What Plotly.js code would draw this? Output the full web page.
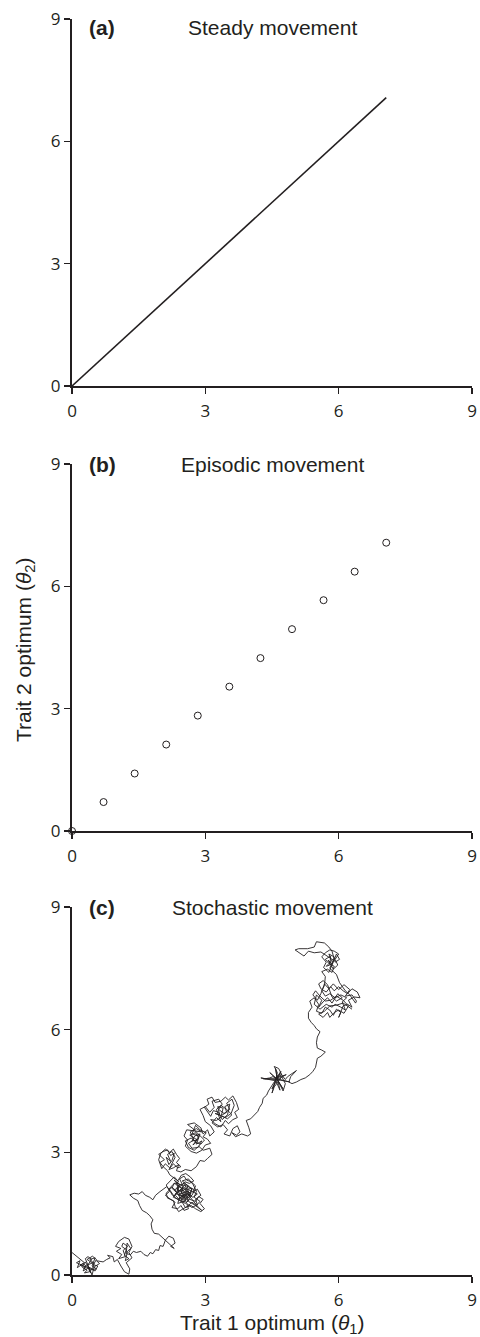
<!DOCTYPE html>
<html>
<head>
<meta charset="utf-8">
<script src="https://cdn.plot.ly/plotly-3.0.1.min.js"></script>
<style>
  html, body { margin: 0; padding: 0; background: #ffffff; }
  #chart { width: 480px; height: 1337px; }
</style>
</head>
<body>
<div id="chart"></div>
<script>
// ---------- data ----------
const tickValues = [0, 3, 6, 9];
const tickLabels = ["0", "3", "6", "9"];

const panelLetters = ["(a)", "(b)", "(c)"];
const panelTitles = ["Steady movement", "Episodic movement", "Stochastic movement"];
const xAxisTitle = "Trait 1 optimum (<i>θ</i><sub>1</sub>)";
const yAxisTitle = "Trait 2 optimum (<i>θ</i><sub>2</sub>)";

// (a) steady movement: straight path of the optimum
const steadyX = [0, 7.07];
const steadyY = [0, 7.07];

// (b) episodic movement: discrete jumps of the optimum
const episodicX = [0, 0.71, 1.41, 2.12, 2.83, 3.54, 4.24, 4.95, 5.66, 6.36, 7.07];
const episodicY = [0, 0.71, 1.41, 2.12, 2.83, 3.54, 4.24, 4.95, 5.66, 6.36, 7.07];

// (c) stochastic movement: path (x, y)
const stochasticPath = [
  [0.00,0.55],[0.12,0.45],[0.20,0.38],[0.28,0.30],[0.18,0.24],[0.30,0.20],[0.25,0.10],[0.38,0.18],
  [0.42,0.05],[0.35,0.25],[0.48,0.30],[0.40,0.38],[0.52,0.42],[0.45,0.22],[0.55,0.15],[0.40,0.12],
  [0.30,0.32],[0.22,0.20],[0.34,0.12],[0.28,0.05],[0.40,0.08],[0.36,0.20],[0.46,0.15],[0.50,0.28],
  [0.42,0.32],[0.34,0.38],[0.46,0.46],[0.55,0.38],[0.48,0.25],[0.58,0.22],[0.52,0.10],
  [0.10,0.30],[0.18,0.35],[0.12,0.18],[0.25,0.28],[0.32,0.22],[0.26,0.15],[0.38,0.28],[0.44,0.38],
  [0.36,0.45],[0.30,0.40],
  [0.45,0.00],[0.50,0.20],[0.62,0.28],[0.55,0.35],[0.70,0.32],[0.78,0.38],[0.86,0.42],[0.80,0.48],
  [0.92,0.45],[0.95,0.32],
  [1.02,0.38],[1.10,0.22],[1.18,0.08],[1.28,0.02],[1.30,0.15],[1.22,0.30],[1.35,0.42],[1.28,0.55],
  [1.35,0.70],[1.28,0.88],[1.18,0.92],[1.05,0.82],[0.98,0.70],[1.10,0.65],[1.00,0.58],[1.12,0.50],
  [1.05,0.40],[1.20,0.45],[1.15,0.60],[1.25,0.70],[1.15,0.78],
  [1.12,0.70],[1.22,0.62],[1.18,0.48],[1.28,0.40],[1.20,0.35],[1.25,0.58],[1.32,0.65],[1.24,0.78],
  [1.22,0.52],[1.32,0.50],[1.38,0.58],
  [1.45,0.55],[1.55,0.58],[1.62,0.50],[1.70,0.46],[1.76,0.55],[1.82,0.52],[1.88,0.62],[1.95,0.60],
  [1.98,0.72],[2.05,0.70],[2.10,0.85],[2.18,0.95],[2.28,0.90],[2.32,0.78],[2.22,0.70],[2.30,0.65],
  [2.15,0.80],[2.05,0.92],[1.95,1.00],[1.85,1.02],[1.80,1.12],[1.78,1.25],[1.82,1.35],[1.75,1.45],
  [1.68,1.52],[1.58,1.58],[1.52,1.70],[1.48,1.82],[1.38,1.88],[1.30,1.96],[1.40,2.00],[1.50,1.98],
  [1.58,2.04],[1.65,1.95],[1.75,1.90],[1.82,1.84],[1.88,1.95],[1.98,2.04],[2.05,2.10],[2.13,2.16],
  [2.22,2.05],[2.30,1.92],[2.40,2.10],[2.35,2.25],[2.50,2.18],[2.45,1.98],[2.60,2.05],[2.55,1.85],
  [2.42,1.90],[2.38,1.75],[2.52,1.80],[2.65,1.92],[2.70,2.10],[2.58,2.22],[2.48,2.30],[2.62,2.35],
  [2.72,2.22],[2.80,2.05],[2.75,1.90],[2.88,1.80],[2.80,1.70],[2.70,1.78],[2.60,1.68],[2.50,1.62],
  [2.40,1.55],[2.32,1.68],[2.28,1.82],[2.15,1.88],[2.12,2.00],[2.25,2.15],[2.35,2.05],[2.48,2.08],
  [2.55,1.95],[2.62,1.80],[2.75,1.72],[2.92,1.58],[2.85,1.65],[2.70,1.85],[2.58,2.00],[2.45,2.12],
  [2.30,2.32],[2.42,2.22],[2.36,2.10],[2.48,2.02],[2.40,1.95],[2.52,1.90],[2.46,2.05],[2.58,2.12],
  [2.50,2.25],[2.62,2.18],[2.55,2.05],[2.68,2.00],[2.60,1.92],[2.50,1.98],[2.56,1.82],[2.44,1.86],
  [2.38,2.00],[2.30,2.08],[2.42,2.15],[2.54,2.10],[2.64,2.02],[2.58,1.88],[2.70,1.95],[2.76,2.08],
  [2.66,2.14],[2.52,2.20],[2.45,2.08],[2.35,1.98],[2.48,1.94],[2.60,1.98],[2.72,1.90],[2.82,1.98],
  [2.74,2.02],[2.62,2.08],[2.50,2.15],[2.40,2.05],[2.32,1.95],[2.44,1.82],[2.55,1.75],[2.65,1.85],
  [2.78,1.80],[2.85,1.92],[2.95,1.85],[2.88,1.75],[2.98,1.62],[2.90,1.55],[2.78,1.62],[2.68,1.70],
  [2.55,1.65],[2.48,1.78],[2.36,1.86],[2.26,1.95],[2.18,2.10],[2.28,2.22],[2.40,2.28],[2.30,2.40],
  [2.22,2.30],[2.12,2.20],[2.20,2.05],[2.10,1.95],[2.22,1.85],[2.32,1.78],[2.25,1.65],[2.38,1.62],
  [2.45,1.70],[2.52,1.58],[2.62,1.62],[2.58,1.75],[2.70,1.65],[2.82,1.72],[2.78,1.85],[2.90,1.95],
  [2.82,2.10],[2.72,2.02],[2.78,2.18],[2.68,2.28],[2.58,2.32],[2.52,2.42],[2.42,2.35],[2.48,2.22],
  [2.38,2.18],[2.30,2.25],[2.25,2.12],[2.35,2.02],[2.28,1.90],[2.40,1.85],[2.50,1.95],[2.45,1.82],
  [2.58,1.78],[2.66,1.90],[2.60,2.10],[2.70,2.12],[2.64,1.96],[2.56,2.02],[2.52,1.88],[2.42,1.98],
  [2.36,2.14],[2.46,2.18],[2.54,2.28],[2.64,2.24],[2.74,2.30],[2.66,2.40],[2.56,2.48],[2.46,2.44],
  [2.38,2.30],[2.28,2.38],[2.20,2.45],
  [2.15,2.55],[2.05,2.65],[1.98,2.75],[2.08,2.82],[1.95,2.95],[2.05,3.02],[2.15,3.06],[2.22,2.92],
  [2.30,2.98],[2.25,2.80],[2.18,2.70],
  [2.12,2.88],[2.22,2.78],[2.15,2.95],[2.25,3.02],[2.32,2.88],[2.20,2.62],
  [2.10,2.72],[2.02,2.60],[1.95,2.82],[2.00,2.98],[2.10,3.08],[2.20,3.00],[2.28,3.08],[2.35,2.95],
  [2.42,2.85],[2.35,2.75],[2.45,2.65],[2.38,2.62],[2.28,2.72],[2.18,2.58],
  [2.28,2.62],[2.40,2.70],[2.35,2.55],[2.45,2.52],[2.55,2.58],
  [2.68,2.55],[2.80,2.65],[2.88,2.80],[2.98,2.78],[3.05,2.85],
  [3.15,2.95],[3.10,3.10],[2.95,3.05],[2.85,3.15],[2.75,3.05],[2.62,3.12],[2.55,3.28],[2.68,3.35],
  [2.80,3.25],[2.72,3.18],[2.85,3.35],[2.78,3.48],[2.65,3.42],
  [2.82,3.30],[2.70,3.28],[2.76,3.40],[2.88,3.45],[2.80,3.20],[2.92,3.28],[2.84,3.12],[2.70,3.10],
  [2.62,3.22],[2.74,3.30],[2.66,3.50],[2.80,3.58],[2.92,3.50],
  [2.58,3.55],[2.52,3.40],[2.60,3.30],[2.55,3.15],[2.68,3.02],[2.80,2.98],[2.92,3.05],[3.00,3.18],
  [3.12,3.22],[3.05,3.32],[2.95,3.38],[3.02,3.48],[2.88,3.55],[2.78,3.66],[2.70,3.45],[2.86,3.40],
  [2.76,3.25],[2.90,3.20],[2.98,3.30],
  [2.72,3.58],[2.60,3.68],[2.75,3.72],
  [2.90,3.60],[2.95,3.45],[3.05,3.55],[3.10,3.40],[3.20,3.50],[3.12,3.65],[3.00,3.75],
  [2.95,3.90],[2.88,4.05],[3.00,4.12],[3.10,3.98],[3.20,4.10],[3.15,4.25],[3.30,4.30],[3.38,4.18],
  [3.30,4.05],[3.42,3.95],[3.55,4.05],[3.48,4.20],[3.60,4.30],[3.65,4.15],[3.58,3.95],[3.45,3.85],
  [3.22,3.95],[3.32,3.92],[3.28,4.12],[3.40,4.08],[3.36,3.90],[3.48,3.98],[3.44,4.12],[3.55,4.18],
  [3.50,3.92],[3.38,3.80],[3.30,3.98],[3.18,4.02],[3.12,3.88],[3.05,4.00],
  [2.98,4.10],[3.08,4.18],[3.04,4.30],[3.15,4.35],[3.22,4.22],[3.35,4.25],[3.45,4.35],[3.52,4.28],
  [3.62,4.38],[3.70,4.22],[3.75,4.05],[3.66,3.98],[3.72,3.85],[3.62,3.80],[3.52,3.70],[3.45,3.78],
  [3.35,3.62],[3.22,3.70],[3.12,3.80],[3.25,3.78],[3.38,3.88],[3.50,3.82],[3.60,3.92],[3.48,4.05],
  [3.35,4.15],[3.25,4.05],
  [3.35,3.75],[3.25,3.85],[3.15,3.72],[3.28,3.62],[3.40,3.68],[3.50,3.55],[3.42,3.45],[3.55,3.40],
  [3.62,3.58],[3.72,3.65],[3.78,3.50],[3.70,3.42],[3.60,3.48],
  [3.68,3.38],[3.82,3.45],[3.95,3.40],[4.02,3.45],[3.98,3.60],[3.92,3.78],[4.02,3.82],[4.10,3.90],
  [4.18,4.00],[4.22,4.10],[4.28,4.20],[4.30,4.32],[4.38,4.40],[4.42,4.50],[4.48,4.60],[4.55,4.72],
  [4.62,4.80],[4.52,4.85],[4.45,4.82],[4.35,4.80],[4.25,4.82],[4.45,4.78],[4.58,4.75],[4.62,4.95],
  [4.55,5.10],[4.65,5.05],[4.72,4.90],[4.60,4.82],
  [4.60,4.78],[4.30,4.80],[4.62,4.80],[4.58,5.05],[4.62,4.78],[4.90,4.72],[4.60,4.80],[4.75,4.55],
  [4.62,4.78],[4.50,4.55],[4.60,4.80],[4.45,4.95],[4.62,4.78],[4.70,4.98],[4.60,4.82],[4.82,4.90],
  [4.58,4.76],[4.68,4.52],[4.62,4.80],
  [4.68,4.65],[4.75,4.50],[4.80,4.68],[4.72,4.85],
  [4.62,4.70],[4.55,4.60],[4.50,4.45],[4.60,4.85],[4.70,4.92],[4.80,4.78],[4.85,4.85],[4.95,4.92],
  [5.05,5.00],[4.92,4.85],[4.88,4.72],[4.95,4.68],
  [5.05,4.72],[5.15,4.78],[5.25,4.82],[5.35,4.90],[5.42,4.98],[5.48,5.08],[5.50,5.20],[5.52,5.30],
  [5.60,5.35],[5.70,5.45],[5.62,5.50],[5.52,5.55],[5.50,5.68],[5.52,5.82],[5.58,5.95],[5.50,6.02],
  [5.45,6.10],[5.38,6.18],[5.32,6.28],[5.32,6.42],
  [5.40,6.55],[5.35,6.70],[5.45,6.78],[5.55,6.62],[5.50,6.45],[5.62,6.40],[5.70,6.55],[5.80,6.48],
  [5.88,6.35],[5.95,6.50],[6.05,6.42],[6.00,6.30],[6.10,6.58],[6.20,6.62],[6.30,6.55],[6.22,6.72],
  [6.35,6.80],[6.48,6.78],[6.42,6.92],[6.30,7.00],[6.20,6.88],[6.10,6.95],[6.00,7.05],[5.90,6.95],
  [5.82,7.05],[5.72,6.92],[5.60,7.00],[5.55,7.12],[5.65,7.20],[5.75,7.10],[5.85,6.80],[5.95,6.70],
  [6.08,6.78],[5.98,6.88],[5.85,6.65],[5.75,6.78],[5.65,6.68],
  [5.55,6.55],[5.62,6.72],[5.50,6.85],[5.45,6.62],[5.58,6.50],[5.72,6.62],[5.85,6.55],[5.92,6.62],
  [6.05,6.55],[6.15,6.48],[6.08,6.68],[6.18,6.78],[6.05,6.85],[5.92,6.78],[5.80,6.88],[5.70,6.82],
  [5.62,6.95],[5.68,7.08],
  [5.70,7.30],[5.62,7.42],[5.75,7.48],[5.85,7.40],[5.90,7.55],[5.78,7.62],[5.70,7.72],[5.82,7.80],
  [5.80,7.58],[5.72,7.55],[5.84,7.68],[5.78,7.85],[5.90,7.78],[5.86,7.60],[5.76,7.70],
  [5.88,7.48],[5.98,7.58],[5.92,7.72],[6.00,7.85],[5.90,7.92],[5.80,7.95],[5.70,7.88],[5.62,7.78],
  [5.72,7.65],[5.66,7.52],[5.78,7.40],
  [5.95,7.85],[6.02,7.72],[5.92,7.65],[5.85,7.92],[5.78,8.02],[5.68,8.12],[5.50,8.15],[5.45,8.02],
  [5.30,7.98],[5.10,7.98],[5.02,7.95],[5.22,7.80],[5.32,7.92],[5.45,7.88],[5.60,7.90],
  [5.72,7.82],[5.88,7.70],[5.80,7.50],[5.95,7.35],[6.02,7.15],[6.15,6.95],[6.25,6.85],[6.38,6.65],
  [6.40,6.70],[6.30,6.85],[6.15,6.82],[6.25,6.98],[6.12,7.10],[6.00,6.98],[5.88,7.12],[5.78,7.00],
  [5.68,7.12],[5.60,6.88],[5.52,6.72],[5.42,6.85],[5.48,6.95],[5.58,6.82],[5.70,6.70],[5.82,6.72],
  [5.95,6.82],[6.10,6.72],[6.22,6.58],[6.12,6.40],[6.00,6.48],[5.90,6.42],[5.80,6.30],[5.75,6.42],
  [5.65,6.30],[5.55,6.38],
  [5.68,6.45],[5.80,6.58],[5.95,6.60],[6.10,6.65],[6.30,6.50]
];

// ---------- styling ----------
const ink = "#231f20";
const tickFont = { family: "Open Sans, sans-serif", size: 17, color: ink };
const textFont = { family: "Liberation Sans, Arial, sans-serif", size: 21, color: ink };

function axisBase(extra) {
  return Object.assign({
    range: [0, 9],
    tickvals: tickValues,
    ticktext: tickLabels,
    showline: true,
    linewidth: 2,
    linecolor: ink,
    ticks: "outside",
    ticklen: 6,
    tickwidth: 1.5,
    tickcolor: ink,
    tickfont: tickFont,
    showgrid: false,
    zeroline: false,
    fixedrange: true
  }, extra);
}

const traces = [
  {
    x: steadyX, y: steadyY, xaxis: "x", yaxis: "y",
    type: "scatter", mode: "lines",
    line: { color: ink, width: 1.6 },
    hoverinfo: "skip"
  },
  {
    x: episodicX, y: episodicY, xaxis: "x2", yaxis: "y2",
    type: "scatter", mode: "markers",
    marker: { symbol: "circle", size: 7, color: "#ffffff", line: { color: ink, width: 1 } },
    cliponaxis: false,
    hoverinfo: "skip"
  },
  {
    x: stochasticPath.map(p => p[0]), y: stochasticPath.map(p => p[1]),
    xaxis: "x3", yaxis: "y3",
    type: "scatter", mode: "lines",
    line: { color: ink, width: 0.9 },
    hoverinfo: "skip"
  }
];

const domains = [[0.7078, 1.0], [0.3535, 0.6457], [0.0, 0.293]];
const letterY = [0.978, 0.998, 0.998];
const axisIds = [["x", "y"], ["x2", "y2"], ["x3", "y3"]];

const annotations = [];
panelLetters.forEach((letter, i) => {
  const [xa, ya] = axisIds[i];
  annotations.push({
    text: "<b>" + letter + "</b>", xref: xa + " domain", yref: ya + " domain",
    x: 0.0375, y: letterY[i], xanchor: "left", yanchor: "middle",
    showarrow: false, font: textFont
  });
  annotations.push({
    text: panelTitles[i], xref: xa + " domain", yref: ya + " domain",
    x: 0.5, y: letterY[i], xanchor: "center", yanchor: "middle",
    showarrow: false, font: textFont
  });
});
annotations.push({
  text: xAxisTitle, xref: "paper", yref: "paper",
  x: 0.5, y: -0.039, xanchor: "center", yanchor: "middle",
  showarrow: false, font: textFont
});
annotations.push({
  text: yAxisTitle, xref: "paper", yref: "paper",
  x: -0.1175, y: 0.4976, xanchor: "center", yanchor: "middle", textangle: -90,
  showarrow: false, font: textFont
});

const xExtra = { domain: [0, 1], ticklabelstandoff: 3 };
const yExtra = { ticksuffix: "\u00a0\u00a0" };

const layout = {
  width: 480, height: 1337,
  margin: { l: 72, r: 8, t: 19, b: 62 },
  paper_bgcolor: "#ffffff", plot_bgcolor: "#ffffff",
  showlegend: false,
  xaxis: axisBase(Object.assign({ anchor: "y" }, xExtra)),
  yaxis: axisBase(Object.assign({ domain: domains[0], anchor: "x" }, yExtra)),
  xaxis2: axisBase(Object.assign({ anchor: "y2" }, xExtra)),
  yaxis2: axisBase(Object.assign({ domain: domains[1], anchor: "x2" }, yExtra)),
  xaxis3: axisBase(Object.assign({ anchor: "y3" }, xExtra)),
  yaxis3: axisBase(Object.assign({ domain: domains[2], anchor: "x3" }, yExtra)),
  annotations: annotations
};

Plotly.newPlot("chart", traces, layout, { staticPlot: true, displayModeBar: false });
</script>
</body>
</html>
